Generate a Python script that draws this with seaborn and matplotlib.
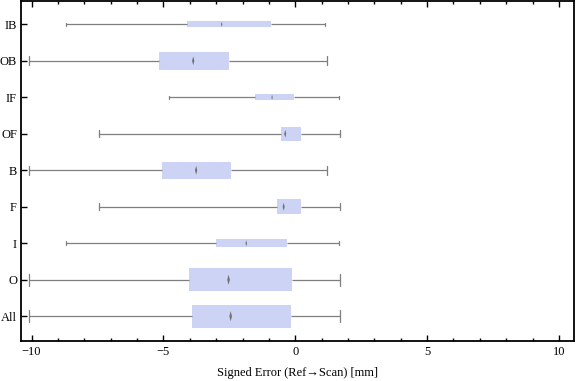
import numpy as np
import pandas as pd
import matplotlib.pyplot as plt
from matplotlib.ticker import MultipleLocator
import seaborn as sns

# five-number summaries (mm)
groups = ['IB', 'OB', 'IF', 'OF', 'B', 'F', 'I', 'O', 'All']
lo = [-8.69, -10.09, -4.80, -7.44, -10.09, -7.44, -8.69, -10.09, -10.09]
q1 = [-4.11, -5.17, -1.52, -0.54, -5.06, -0.69, -3.01, -4.03, -3.92]
med = [-2.79, -3.87, -0.88, -0.38, -3.76, -0.44, -1.86, -2.53, -2.45]
q3 = [-0.93, -2.53, -0.06, 0.22, -2.45, 0.22, -0.31, -0.14, -0.17]
hi = [1.14, 1.21, 1.67, 1.71, 1.21, 1.71, 1.67, 1.70, 1.70]

# box thickness per group (as drawn)
box_w = [0.16, 0.48, 0.16, 0.37, 0.48, 0.40, 0.21, 0.63, 0.64]

fill = '#ccd3f5'
grey = '#7f7f7f'

sns.set_style('ticks')
plt.rcParams['font.family'] = ['Liberation Serif', 'DejaVu Serif']
plt.rcParams['text.color'] = 'black'
plt.rcParams['axes.labelcolor'] = 'black'
plt.rcParams['xtick.color'] = 'black'
plt.rcParams['ytick.color'] = 'black'

fig = plt.figure(figsize=(5.76, 3.81), dpi=100)
ax = fig.add_axes([0.0356, 0.1058, 0.9609, 0.8916])

for g, a, b, m, c, d, w in zip(groups, lo, q1, med, q3, hi, box_w):
    df = pd.DataFrame({'err': [a, b, m, c, d], 'grp': g})
    sns.boxplot(data=df, x='err', y='grp', order=groups, width=w, whis=(0, 100),
                color=fill, saturation=1, linecolor=grey, linewidth=0.9,
                showfliers=False, ax=ax,
                boxprops=dict(facecolor=fill, edgecolor='none'),
                medianprops=dict(visible=False))

meds = pd.DataFrame({'med': med, 'grp': groups, 'w': box_w})
diamond = [(0, -1), (0.25, 0), (0, 1), (-0.25, 0)]
sns.scatterplot(data=meds, x='med', y='grp', size='w', sizes=(14, 55),
                marker=diamond, color='#6f6f6f', edgecolor='none',
                legend=False, zorder=5, ax=ax)

ax.set_xlim(-10.42, 10.57)
ax.set_ylim(8.67, -0.64)
ax.set_xticks([-10, -5, 0, 5, 10])
ax.xaxis.set_minor_locator(MultipleLocator(1))
ax.tick_params(axis='x', which='both', direction='in', top=True, labelsize=9,
               pad=4, width=1)
ax.tick_params(axis='x', which='major', length=4)
ax.tick_params(axis='x', which='minor', length=2)
ax.tick_params(axis='y', direction='in', length=4, width=1, labelsize=9, pad=2.5)
for s in ax.spines.values():
    s.set_visible(True)
    s.set_linewidth(1.3)
    s.set_color('black')

ax.set_ylabel('')
ax.set_xlabel('Signed Error (Ref\u2192Scan) [mm]', fontsize=9, labelpad=6)

fig.savefig('out.png', dpi=100)
